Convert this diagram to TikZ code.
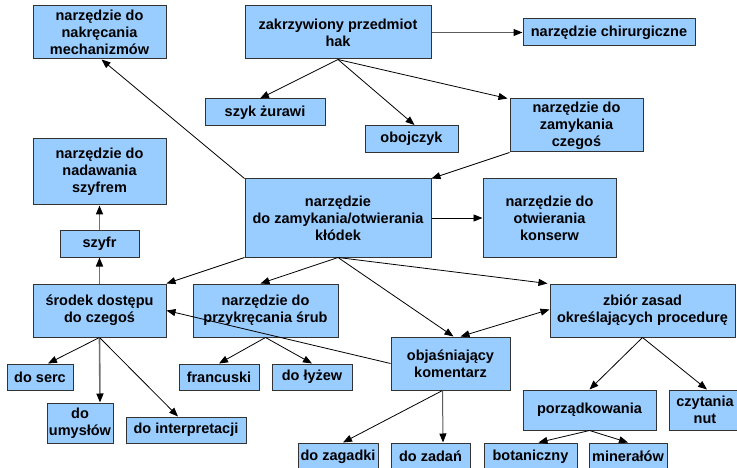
\documentclass[tikz,border=0pt]{standalone}
\usepackage{fontspec}
\setmainfont{Liberation Sans}
\usetikzlibrary{arrows.meta}
\definecolor{boxfill}{HTML}{99CCFF}
\definecolor{boxline}{HTML}{333333}
\definecolor{grayline}{HTML}{707070}
\tikzset{
  box/.style={draw=boxline, line width=1pt, fill=boxfill, inner sep=0pt, align=center,
    font=\fontsize{14.5}{17}\selectfont\bfseries},
  conn/.style={draw=black, line width=0.8pt, -{Triangle[length=9pt,width=7pt]}},
  dconn/.style={draw=black, line width=0.8pt, {Triangle[length=9pt,width=7pt]}-{Triangle[length=9pt,width=7pt]}},
  gconn/.style={draw=grayline, line width=1.6pt, -{Triangle[length=9pt,width=7pt,color=black]}},
  dgconn/.style={draw=boxline!80, line width=1pt, -{Triangle[length=9pt,width=7pt,color=black]}},
}
\newcommand{\bx}[6]{\node[box, minimum width=#4pt, minimum height=#5pt] (#1) at (#2,#3) {#6};}
\begin{document}
\begin{tikzpicture}[x=1pt,y=-1pt]
\useasboundingbox (0,0) rectangle (737,468);
\clip (0,0) rectangle (737,468);
\fill[white] (0,0) rectangle (737,468);
\bx{nakr}{99.5}{32.5}{133}{53}{narzędzie do\\nakręcania\\mechanizmów}
\bx{hak}{338}{32.5}{186}{53}{zakrzywiony przedmiot\\hak}
\bx{chir}{609}{32.5}{172}{27}{narzędzie chirurgiczne}
\bx{szyk}{265}{112.5}{120}{27}{szyk żurawi}
\bx{oboj}{411.5}{139}{93}{27}{obojczyk}
\bx{zamc}{576.5}{125.5}{133}{53}{narzędzie do\\zamykania\\czegoś}
\bx{nada}{99.5}{172}{133}{66}{narzędzie do\\nadawania\\szyfrem}
\bx{klod}{338}{218}{186}{78}{narzędzie\\do zamykania/otwierania\\kłódek}
\bx{kons}{549.5}{218}{133}{78}{narzędzie do\\otwierania\\konserw}
\bx{szyfr}{99.5}{244}{79}{26}{szyfr}
\bx{srod}{99.5}{310.5}{133}{53}{środek dostępu\\do czegoś}
\bx{przy}{265.5}{310.5}{145}{53}{narzędzie do\\przykręcania śrub}
\bx{zbior}{642.5}{310.5}{185}{53}{zbiór zasad\\określających procedurę}
\bx{serc}{40}{377}{66}{26}{do serc}
\bx{fran}{219}{377}{80}{26}{francuski}
\bx{lyz}{312}{377}{80}{26}{do łyżew}
\bx{obja}{450.5}{363.5}{119}{53}{objaśniający\\komentarz}
\bx{umys}{80}{423}{66}{40}{do\\umysłów}
\bx{inte}{186}{430}{120}{26}{do interpretacji}
\bx{porz}{589.5}{410}{133}{40}{porządkowania}
\bx{czyt}{705}{410}{72}{40}{czytania\\nut}
\bx{zagad}{338}{456.5}{80}{27}{do zagadki}
\bx{zadan}{430.5}{456.5}{79}{27}{do zadań}
\bx{bota}{530.5}{456.5}{93}{27}{botaniczny}
\bx{mine}{628}{456.5}{78}{27}{minerałów}
% connectors
\draw[dgconn] (hak.east) -- (chir.west);
\draw[conn] (hak.south) -- ([xshift=-5pt]szyk.north);
\draw[conn] (hak.south) -- ([xshift=3pt]oboj.north);
\draw[conn] (hak.south) -- ([xshift=-2pt]zamc.north west);
\draw[conn] (zamc.south west) -- (klod.north east);
\draw[conn] (klod.north west) -- ([xshift=2pt]nakr.south);
\draw[conn] (klod.east) -- (kons.west);
\draw[conn] (klod.south west) -- (srod.north east);
\draw[conn] (klod.south) -- ([xshift=-5pt]przy.north);
\draw[conn] (klod.south) -- ([xshift=3pt]obja.north);
\draw[conn] (klod.south) -- ([xshift=-2pt]zbior.north west);
\draw[dconn] ([xshift=10pt]obja.north) -- ([yshift=1pt]zbior.west);
\draw[conn] (obja.west) -- (srod.east);
\draw[conn] ([xshift=-8pt]obja.south) -- ([xshift=5pt]zagad.north);
\draw[dgconn] ([xshift=-8pt]obja.south) -- ([xshift=12.5pt]zadan.north);
\draw[gconn] (srod.north) -- (szyfr.south);
\draw[gconn] (szyfr.north) -- (nada.south);
\draw[conn] (srod.south) -- ([xshift=8pt]serc.north);
\draw[gconn] (srod.south) -- ([xshift=20pt]umys.north);
\draw[conn] (srod.south) -- ([xshift=-8pt]inte.north);
\draw[conn] (przy.south) -- (fran.north);
\draw[conn] (przy.south) -- (lyz.north);
\draw[conn] (zbior.south) -- (porz.north);
\draw[conn] (zbior.south) -- ([xshift=2pt]czyt.north);
\draw[conn] (porz.south) -- ([xshift=8pt]bota.north);
\draw[conn] (porz.south) -- (mine.north);
\end{tikzpicture}
\end{document}
